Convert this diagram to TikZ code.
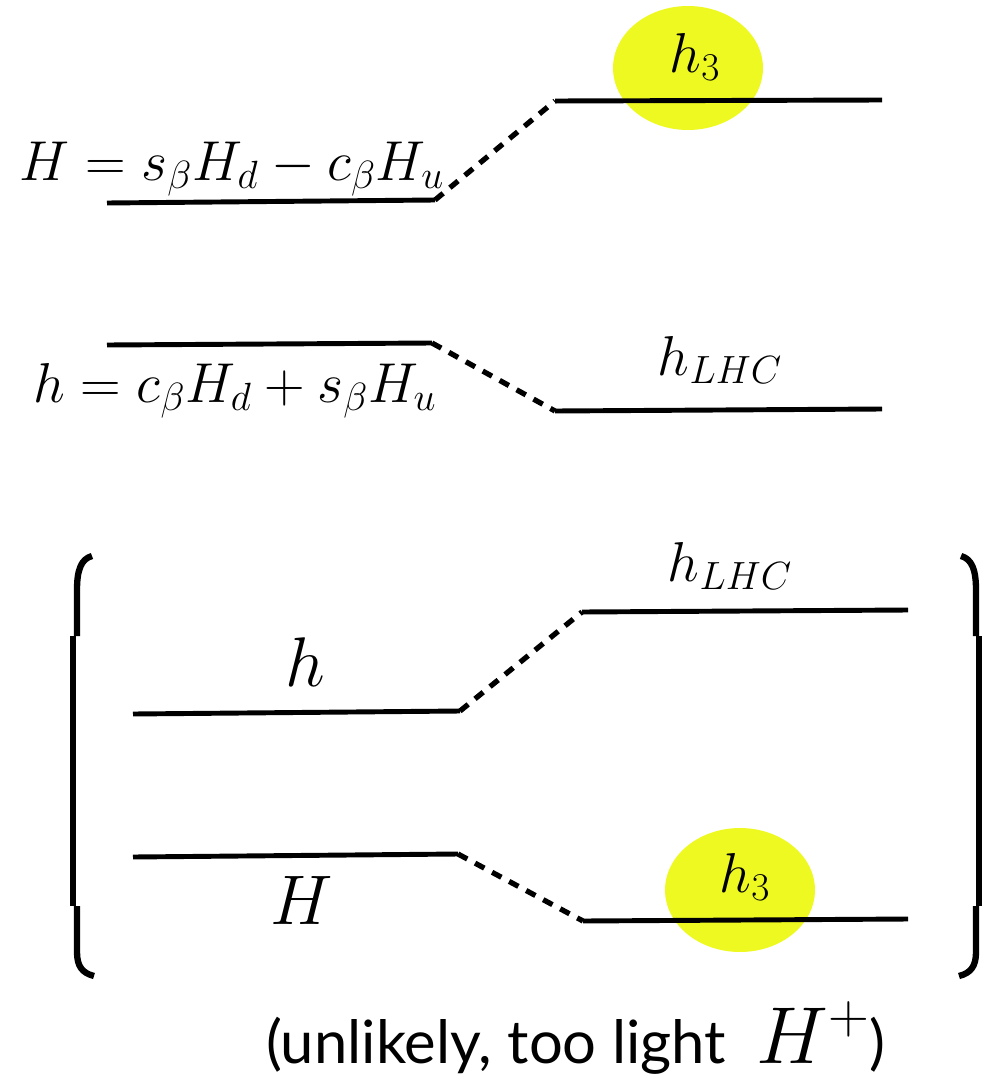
\RequirePackage{fix-cm}
\documentclass[tikz,border=0pt]{standalone}
\usepackage{amsmath}
\usepackage{fontspec}
\setsansfont{Lato}
\usepackage{tikz}
\usetikzlibrary{shapes.geometric}
\definecolor{blobyellow}{RGB}{238,249,34}

\begin{document}
\begin{tikzpicture}[
	x=0.02cm, y=-0.02cm,
	level/.style={line width=2.8pt},
	mixing/.style={line width=3pt, dash pattern=on 6pt off 5pt},
	blob/.style={ellipse, fill=blobyellow, minimum width=3cm, minimum height=2.48cm, inner sep=0pt},
	eqn/.style={font=\fontsize{32}{38}\selectfont, inner sep=0pt, anchor=base},
	big/.style={font=\fontsize{40}{48}\selectfont, inner sep=0pt, anchor=base},
	note/.style={font=\fontsize{34}{40}\selectfont\sffamily, inner sep=0pt, anchor=base},
	brace/.style={line width=3.6pt}
	]
	\useasboundingbox (0,0) rectangle (983,1078);
	
	% Highlights
	\node[blob] (B1) at (688,68) {};
	\node[blob] (B2) at (740,890) {};
	
	% Upper panel
	\coordinate (HL) at (107,203); \coordinate (HR) at (435,200);
	\coordinate (TL) at (555,101); \coordinate (TR) at (882,100);
	\coordinate (hL) at (107,345); \coordinate (hR) at (432,343);
	\coordinate (LL) at (555,411); \coordinate (LR) at (882,409);
	\draw[level] (HL) -- (HR);
	\draw[level] (TL) -- (TR);
	\draw[level] (hL) -- (hR);
	\draw[level] (LL) -- (LR);
	\draw[mixing] (HR) -- (TL);
	\draw[mixing] (hR) -- (LL);
	
	\node[eqn] (Heq) at (232,180) {$H = s_\beta H_d - c_\beta H_u$};
	\node[eqn] (heq) at (235,402) {$h = c_\beta H_d + s_\beta H_u$};
	\node[eqn] (h3a) at (695,72) {$h_3$};
	\node[eqn] (lhca) at (720,375) {$h_{LHC}$};
	
	% Lower panel
	\coordinate (aL) at (133,714); \coordinate (aR) at (460,711);
	\coordinate (UL) at (582,612); \coordinate (UR) at (908,610);
	\coordinate (bL) at (133,857); \coordinate (bR) at (458,854);
	\coordinate (DL) at (583,921); \coordinate (DR) at (908,919);
	\draw[level] (aL) -- (aR);
	\draw[level] (UL) -- (UR);
	\draw[level] (bL) -- (bR);
	\draw[level] (DL) -- (DR);
	\draw[mixing] (aR) -- (UL);
	\draw[mixing] (bR) -- (DL);
	
	\node[big] (hbig) at (305,686) {$h$};
	\node[big] (Hbig) at (302,924) {$H$};
	\node[eqn] (lhcb) at (730,581) {$h_{LHC}$};
	\node[eqn] (h3b) at (745,892) {$h_3$};
	
	% Brackets
	\draw[brace] (92,556) .. controls (81,559) and (77,570) .. (77,590) -- (77,636);
	\draw[brace] (73,636) -- (73,906);
	\draw[brace] (77,906) -- (77,952) .. controls (77,966) and (82,973) .. (94,976);
	\draw[brace] (961,556) .. controls (972,559) and (976,570) .. (976,590) -- (976,636);
	\draw[brace] (979,636) -- (979,906);
	\draw[brace] (976,906) -- (976,952) .. controls (976,966) and (971,973) .. (959,976);
	
	\node[note] (note) at (576,1063) {(unlikely, too light \ {\fontsize{46}{54}\selectfont$H^+$})};
	
\end{tikzpicture}
\end{document}
